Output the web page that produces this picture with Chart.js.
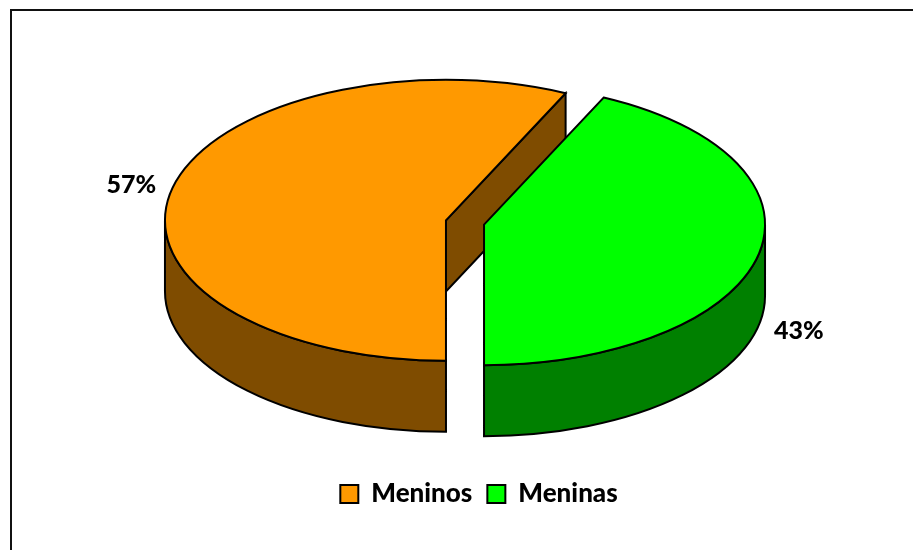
<!DOCTYPE html>
<html><head><meta charset="utf-8">
<script src="https://cdn.jsdelivr.net/npm/chart.js@4/dist/chart.umd.min.js"></script>
<style>html,body{margin:0;padding:0;background:#fff}</style>
</head><body>
<canvas id="c" width="913" height="550"></canvas>
<script>
// ---- data ----
const categories = ['Meninos', 'Meninas'];
const shares = [57, 43];
const pctLabels = ['57%', '43%'];
const topColors = ['#FF9900', '#00FF00'];
const sideColors = ['#7F4C00', '#008000'];

// ---- 3D look ----
const TILT = 0.5;        // vertical squash of the pie disc
const DEPTH = 71;        // thickness of the pie, px
const LABEL_DIST = 342;  // label distance from centre (unsquashed)
const LEGEND_SHIFT = 14; // legend sits a little right of the pie centre
const FONT = 'Lato, "Open Sans", sans-serif';

const pie3d = {
  id: 'pie3d',
  afterLayout(chart) {
    const lg = chart.legend;
    if (lg) { lg.left += LEGEND_SHIFT; lg.right += LEGEND_SHIFT; }
  },
  beforeDraw(chart) {
    const ctx = chart.ctx;
    ctx.save();
    ctx.fillStyle = '#fff';
    ctx.fillRect(0, 0, chart.width, chart.height);
    ctx.fillStyle = '#111';
    ctx.fillRect(10, 9, chart.width, 2);
    ctx.fillRect(10, 9, 2, chart.height);
    ctx.restore();
  },
  beforeDatasetsDraw(chart) {
    const ctx = chart.ctx;
    const meta = chart.getDatasetMeta(0);
    const slices = meta.data.map((a, i) => {
      const p = a.getProps(['x', 'y', 'startAngle', 'endAngle', 'outerRadius']);
      const E = a.options.offset || 0;
      const mid = (p.startAngle + p.endAngle) / 2;
      return {
        i, a0: p.startAngle, a1: p.endAngle, R: p.outerRadius, mid,
        ox: p.x, oy: p.y - DEPTH / 2,
        cx: p.x + Math.cos(mid) * E,
        cy: p.y - DEPTH / 2 + Math.sin(mid) * E * TILT
      };
    });
    const P = (s, t, h) => [s.cx + s.R * Math.cos(t), s.cy + s.R * TILT * Math.sin(t) + h];
    ctx.save();
    ctx.lineWidth = 2;
    ctx.strokeStyle = '#000';
    ctx.lineJoin = 'miter';
    // radial walls
    slices.forEach(s => {
      const walls = [];
      if (Math.cos(s.a1) > 0.01) walls.push(s.a1);
      if (-Math.cos(s.a0) > 0.01) walls.push(s.a0);
      walls.forEach(t => {
        const e0 = P(s, t, 0), e1 = P(s, t, DEPTH);
        ctx.beginPath();
        ctx.moveTo(s.cx, s.cy);
        ctx.lineTo(e0[0], e0[1]);
        ctx.lineTo(e1[0], e1[1]);
        ctx.lineTo(s.cx, s.cy + DEPTH);
        ctx.closePath();
        ctx.fillStyle = sideColors[s.i];
        ctx.fill();
        ctx.stroke();
      });
    });
    // outer walls (front half only)
    slices.forEach(s => {
      const TAU = Math.PI * 2;
      for (let k = Math.floor(s.a0 / TAU) - 1; k <= Math.ceil(s.a1 / TAU); k++) {
        const t0 = Math.max(s.a0, k * TAU), t1 = Math.min(s.a1, k * TAU + Math.PI);
        if (t1 - t0 <= 1e-4) continue;
        const b = P(s, t1, DEPTH);
        ctx.beginPath();
        ctx.ellipse(s.cx, s.cy, s.R, s.R * TILT, 0, t0, t1, false);
        ctx.lineTo(b[0], b[1]);
        ctx.ellipse(s.cx, s.cy + DEPTH, s.R, s.R * TILT, 0, t1, t0, true);
        ctx.closePath();
        ctx.fillStyle = sideColors[s.i];
        ctx.fill();
        ctx.stroke();
      }
    });
    // top faces
    slices.forEach(s => {
      ctx.beginPath();
      ctx.moveTo(s.cx, s.cy);
      ctx.ellipse(s.cx, s.cy, s.R, s.R * TILT, 0, s.a0, s.a1, false);
      ctx.closePath();
      ctx.fillStyle = topColors[s.i];
      ctx.fill();
      ctx.stroke();
    });
    // percentage labels
    ctx.fillStyle = '#000';
    ctx.font = '900 25px ' + FONT;
    ctx.textAlign = 'center';
    ctx.textBaseline = 'middle';
    slices.forEach(s => {
      const x = s.ox + Math.cos(s.mid) * LABEL_DIST;
      const y = s.oy + Math.sin(s.mid) * LABEL_DIST * TILT + (Math.sin(s.mid) > 0 ? DEPTH : 0);
      ctx.fillText(pctLabels[s.i], x, y);
    });
    ctx.restore();
    return false;
  }
};

new Chart(document.getElementById('c'), {
  type: 'pie',
  data: {
    labels: categories,
    datasets: [{
      data: shares,
      backgroundColor: topColors,
      borderColor: '#000',
      borderWidth: 2,
      offset: 19.5,
      radius: 281
    }]
  },
  options: {
    responsive: false,
    animation: false,
    devicePixelRatio: 1,
    rotation: 180,
    layout: { padding: { left: 17, top: 50, bottom: 33 } },
    plugins: {
      tooltip: { enabled: false },
      legend: {
        position: 'bottom',
        labels: {
          color: '#000',
          boxWidth: 18,
          boxHeight: 18,
          padding: 15,
          font: { family: FONT, size: 26, weight: '900' }
        }
      }
    }
  },
  plugins: [pie3d]
});
</script>
</body></html>
